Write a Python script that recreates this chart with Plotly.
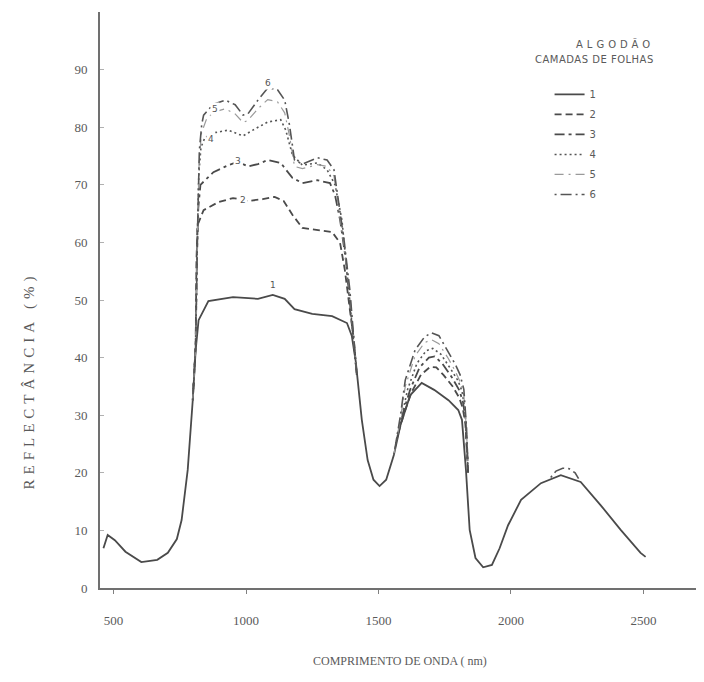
import plotly.graph_objects as go

# ---------------- data (wavelength nm, reflectance %) ----------------
wl_1 = [462, 478, 505, 545, 605, 665, 705, 739, 757, 780, 799, 810, 821, 858, 951, 1045, 1101, 1146, 1183,
        1250, 1325, 1381, 1399, 1414, 1437, 1459, 1481, 1504, 1529, 1558, 1583, 1620, 1663, 1710, 1764,
        1801, 1815, 1830, 1844, 1866, 1895, 1928, 1957, 1989, 2038, 2113, 2188, 2263, 2338, 2414, 2489, 2508]
refl_1 = [6.9, 9.2, 8.3, 6.3, 4.5, 4.9, 6.1, 8.5, 11.8, 20.5, 32.6, 41.3, 46.5, 49.8, 50.5, 50.2, 50.9, 50.2, 48.4,
          47.6, 47.2, 46.0, 43.8, 39.4, 29.2, 22.2, 18.8, 17.7, 18.8, 23.1, 28.3, 33.5, 35.6, 34.4, 32.6,
          30.9, 29.2, 20.5, 10.1, 5.2, 3.6, 4.0, 6.9, 10.9, 15.3, 18.2, 19.6, 18.4, 14.4, 10.1, 6.1, 5.4]

# layers 2-6: only where they separate from layer 1 (None = gap)
wl_2 = [799, 810, 813, 817, 840, 896, 951, 1007, 1063, 1108, 1142, 1175, 1213, 1269, 1325, 1355, 1373, 1392,
        1407, 1418, None,
        1575, 1600, 1625, 1660, 1695, 1718, 1745, 1780, 1805, 1818, 1828, 1835, 1838]
refl_2 = [32.6, 42.2, 56.9, 63.0, 65.6, 67.0, 67.7, 67.2, 67.5, 67.9, 67.2, 64.8, 62.5, 62.2, 61.8, 59.9, 55.2, 48.3,
          43.1, 37.0, None,
          27.0, 30.8, 34.0, 37.0, 38.4, 38.3, 37.0, 35.0, 33.0, 31.2, 28.5, 23.0, 20.0]

wl_3 = [799, 810, 815, 820, 828, 877, 933, 970, 1007, 1045, 1082, 1131, 1175, 1213, 1269, 1317, 1336, 1355,
        1377, 1399, 1412, 1418, None,
        1570, 1595, 1620, 1655, 1690, 1712, 1740, 1775, 1803, 1818, 1828, 1835, 1838]
refl_3 = [32.6, 42.2, 58.0, 66.0, 70.0, 72.2, 73.4, 74.0, 73.2, 73.6, 74.3, 73.8, 71.2, 70.3, 70.8, 70.3, 68.2, 63.9,
          56.9, 46.5, 41.0, 37.0, None,
          26.0, 30.8, 34.5, 38.3, 40.0, 40.2, 39.0, 36.7, 34.5, 32.5, 29.5, 24.0, 20.0]

wl_4 = [799, 810, 816, 822, 830, 845, 877, 933, 970, 989, 1026, 1082, 1131, 1150, 1175, 1213, 1269, 1306,
        1336, 1362, 1385, 1405, 1418, None,
        1565, 1590, 1610, 1645, 1680, 1705, 1735, 1770, 1800, 1815, 1826, 1834, 1838]
refl_4 = [32.6, 42.2, 60.0, 72.0, 76.5, 78.2, 79.0, 79.5, 78.8, 78.5, 79.5, 80.9, 81.3, 79.5, 75.2, 73.4, 73.8, 72.6,
          70.0, 63.9, 53.0, 43.0, 37.0, None,
          25.0, 30.5, 34.5, 39.0, 41.2, 41.6, 40.6, 38.2, 36.0, 34.2, 31.0, 25.0, 20.0]

wl_5 = [799, 810, 817, 823, 832, 850, 877, 922, 959, 989, 1007, 1045, 1082, 1119, 1146, 1164, 1183, 1213,
        1269, 1306, 1332, 1347, 1370, 1392, 1407, 1418, None,
        1558, 1583, 1601, 1638, 1674, 1700, 1728, 1764, 1790, 1808, 1822, 1832, 1837]
refl_5 = [32.6, 42.2, 62.0, 74.0, 79.0, 81.3, 82.6, 83.2, 82.3, 80.8, 81.2, 83.2, 84.8, 84.4, 82.5, 78.5, 73.2, 72.8,
          73.5, 73.2, 71.5, 66.5, 59.5, 51.0, 43.0, 37.0, None,
          23.1, 29.5, 35.0, 40.3, 42.6, 43.1, 42.4, 39.8, 37.6, 35.8, 33.5, 27.5, 22.0]

wl_6 = [799, 810, 818, 824, 833, 840, 877, 922, 959, 989, 1007, 1045, 1082, 1119, 1146, 1164, 1183, 1213,
        1269, 1306, 1332, 1347, 1370, 1392, 1407, 1418, None,
        1558, 1583, 1601, 1638, 1674, 1700, 1728, 1764, 1790, 1808, 1822, 1832, 1837, None,
        2150, 2170, 2195, 2220, 2242, 2255]
refl_6 = [32.6, 42.2, 64.0, 76.0, 80.5, 82.1, 84.0, 84.7, 83.9, 82.1, 82.3, 84.7, 86.8, 86.5, 84.7, 80.4, 74.3, 73.6,
          74.7, 74.3, 72.6, 67.4, 60.4, 51.7, 43.1, 37.0, None,
          23.1, 30.0, 36.1, 41.3, 43.6, 44.3, 43.8, 41.0, 38.8, 37.0, 34.5, 28.0, 22.0, None,
          19.2, 20.3, 20.8, 20.7, 20.0, 19.0]

layer_names = ["1", "2", "3", "4", "5", "6"]
y_ticks = [0, 10, 20, 30, 40, 50, 60, 70, 80, 90]
y_ticktext = ["0", "10", "20", "30", "40", "50", "60", "70", "80", "90"]
x_ticks = [500, 1000, 1500, 2000, 2500]
x_ticktext = ["500", "1000", "1500", "2000", "2500"]

# curve label annotations (layer, wavelength, reflectance)
label_pos = [("1", 1101, 52.6), ("2", 989, 67.4), ("3", 970, 74.2), ("4", 869, 78.0),
             ("5", 884, 83.2), ("6", 1082, 87.6)]

# ---------------- figure ----------------
series = [(wl_1, refl_1), (wl_2, refl_2), (wl_3, refl_3), (wl_4, refl_4), (wl_5, refl_5), (wl_6, refl_6)]
styles = [
    dict(color="#4a4a4a", width=1.8, dash="solid"),
    dict(color="#4a4a4a", width=1.8, dash="7px,4px"),
    dict(color="#4a4a4a", width=1.8, dash="10px,4px,3px,4px"),
    dict(color="#555555", width=1.6, dash="2px,3px"),
    dict(color="#9a9a9a", width=1.2, dash="9px,5px,2px,5px"),
    dict(color="#555555", width=1.6, dash="2px,4px,11px,4px"),
]

fig = go.Figure()
for name, (xs, ys), st in zip(layer_names, series, styles):
    fig.add_trace(go.Scatter(x=xs, y=ys, mode="lines", name=name, line=st, legendgroup=name,
                             connectgaps=False, hoverinfo="skip"))

serif = "Liberation Serif"
sans = "DejaVu Sans"
grey = "#5a5a5a"

fig.update_xaxes(range=[449, 2751], tickvals=x_ticks, ticktext=x_ticktext,
                 showline=True, linecolor="#707070", linewidth=1.6, showgrid=False, zeroline=False,
                 ticks="outside", ticklen=4, tickcolor="#808080", tickwidth=1,
                 tickfont=dict(family=serif, size=13, color=grey), ticklabelstandoff=16)
fig.update_yaxes(range=[0, 100], tickvals=y_ticks, ticktext=y_ticktext,
                 showline=True, linecolor="#707070", linewidth=1.6, showgrid=False, zeroline=False,
                 ticks="inside", ticklen=4, tickcolor="#b0b0b0", tickwidth=1,
                 tickfont=dict(family=serif, size=13, color=grey), ticklabelstandoff=8)

annotations = [
    dict(text="COMPRIMENTO DE ONDA ( nm)", xref="paper", yref="paper", x=0.492, y=-0.127,
         showarrow=False, font=dict(family=serif, size=12, color=grey), xanchor="center", yanchor="middle"),
    dict(text='<span style="letter-spacing:5px">REFLECTÂNCIA (%)</span>', xref="paper", yref="paper",
         x=-0.115, y=0.36, textangle=-90,
         showarrow=False, font=dict(family=serif, size=15, color=grey), xanchor="center", yanchor="middle"),
    dict(text='<span style="letter-spacing:4px">ALGODÃO</span>', xref="paper", yref="paper", x=0.912, y=0.944,
         showarrow=False, font=dict(family=sans, size=10, color=grey), xanchor="right", yanchor="middle"),
    dict(text='<span style="letter-spacing:0.5px">CAMADAS DE FOLHAS</span>', xref="paper", yref="paper",
         x=0.912, y=0.918, showarrow=False,
         font=dict(family=sans, size=10, color=grey), xanchor="right", yanchor="middle"),
]
for txt, xv, yv in label_pos:
    annotations.append(dict(text=txt, x=xv, y=yv, xref="x", yref="y", showarrow=False,
                            font=dict(family=sans, size=9, color="#555"), bgcolor="white"))

fig.update_layout(
    width=704, height=682,
    margin=dict(l=92, r=2, t=4, b=102),
    plot_bgcolor="white", paper_bgcolor="white",
    showlegend=True,
    legend=dict(x=0.737, y=0.882, xanchor="left", yanchor="top", bgcolor="rgba(0,0,0,0)",
                font=dict(family=sans, size=10, color=grey), itemwidth=30, tracegroupgap=1),
    annotations=annotations,
)

fig.write_html("out.html")
